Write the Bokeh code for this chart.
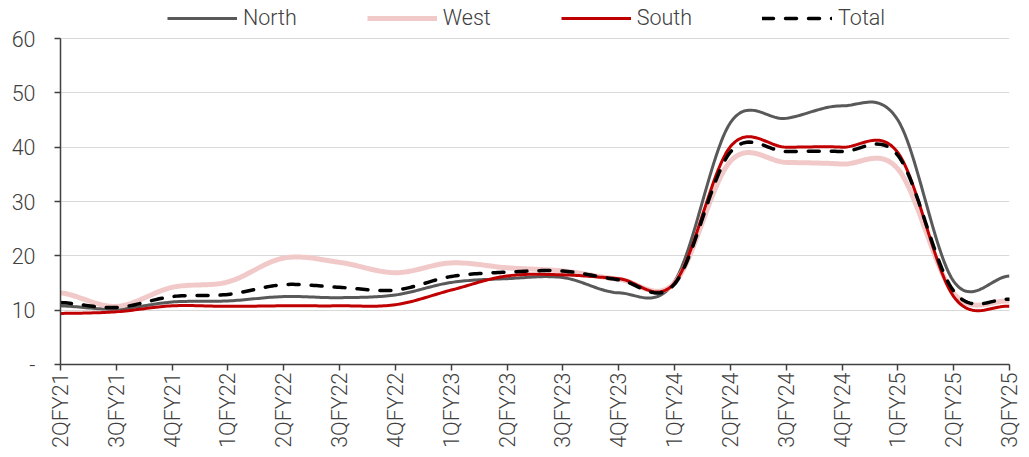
import numpy as np
from bokeh.plotting import figure
from bokeh.models import Legend, LegendItem, FixedTicker, Range1d
from bokeh.embed import file_html
from bokeh.resources import INLINE

# Quarterly series
quarters = ["2QFY21", "3QFY21", "4QFY21", "1QFY22", "2QFY22", "3QFY22",
            "4QFY22", "1QFY23", "2QFY23", "3QFY23", "4QFY23", "1QFY24",
            "2QFY24", "3QFY24", "4QFY24", "1QFY25", "2QFY25", "3QFY25"]
north = [10.8, 10.2, 11.5, 11.7, 12.5, 12.3, 12.8, 15.1, 15.8, 16.0, 13.2, 15.3,
         44.5, 45.3, 47.6, 45.0, 15.3, 16.3]
west = [13.2, 10.7, 14.2, 15.2, 19.6, 18.8, 16.9, 18.7, 17.8, 17.2, 15.7, 15.0,
        37.4, 37.2, 36.9, 36.0, 13.1, 11.7]
south = [9.4, 9.7, 10.8, 10.7, 10.8, 10.8, 11.0, 13.7, 16.3, 16.5, 15.8, 15.0,
         40.1, 40.0, 40.0, 39.0, 12.5, 10.7]
total = [11.4, 10.5, 12.5, 12.9, 14.7, 14.2, 13.7, 16.2, 17.0, 17.2, 15.6, 14.8,
         39.1, 39.2, 39.2, 38.5, 13.5, 12.0]
y_ticks = [0, 10, 20, 30, 40, 50, 60]

FONT = "Roboto Light"
TEXT = "#404040"

# The frame runs to the top edge so the legend has room above the 60 line.
FRAME_H = 364
AXIS_TOP_PX = 326
y_top = y_ticks[-1] * FRAME_H / AXIS_TOP_PX


def smooth(vals, steps=24):
    """Cardinal (Catmull-Rom) spline through the quarterly points."""
    p = np.asarray(vals, dtype=float)
    m = np.empty_like(p)
    m[1:-1] = (p[2:] - p[:-2]) / 2.0
    m[0] = (p[1] - p[0]) / 2.0
    m[-1] = (p[-1] - p[-2]) / 2.0
    t = np.linspace(0.0, 1.0, steps, endpoint=False)
    h00 = 2 * t**3 - 3 * t**2 + 1
    h10 = t**3 - 2 * t**2 + t
    h01 = -2 * t**3 + 3 * t**2
    h11 = t**3 - t**2
    xs, ys = [], []
    for i in range(len(p) - 1):
        xs.extend(i + t)
        ys.extend(h00 * p[i] + h10 * m[i] + h01 * p[i + 1] + h11 * m[i + 1])
    xs.append(len(p) - 1)
    ys.append(p[-1])
    return xs, ys


p = figure(width=1029, height=457, output_backend="svg", toolbar_location=None,
           x_range=Range1d(0, len(quarters) - 1), y_range=Range1d(0, y_top),
           min_border_left=60, min_border_right=20, min_border_top=0,
           min_border_bottom=457 - FRAME_H)
p.outline_line_color = None
p.xgrid.grid_line_color = None
p.ygrid.grid_line_color = "#d9d9d9"
p.ygrid.grid_line_width = 1

series = [
    ("North", north, dict(line_color="#595959", line_width=3)),
    ("West", west, dict(line_color="#f2c9c9", line_width=5)),
    ("South", south, dict(line_color="#c00000", line_width=3)),
    ("Total", total, dict(line_color="#000000", line_width=3.5,
                          line_dash="11 12", line_cap="round")),
]
items = []
for name, vals, style in series:
    xs, ys = smooth(vals)
    r = p.line(xs, ys, line_join="round", **style)
    items.append(LegendItem(label=name, renderers=[r]))

legend = Legend(items=items, orientation="horizontal", location=(107, 334),
                glyph_width=70, glyph_height=22, label_standoff=6, spacing=70,
                padding=0, margin=0, border_line_color=None,
                background_fill_alpha=0, label_text_font=FONT,
                label_text_font_size="21.5px", label_text_color=TEXT)
p.add_layout(legend, "center")

xa = p.xaxis[0]
xa.ticker = FixedTicker(ticks=list(range(len(quarters))))
xa.major_label_overrides = {i: q for i, q in enumerate(quarters)}
xa.major_label_orientation = np.pi / 2
xa.minor_tick_line_color = None
xa.major_tick_in = 0
xa.major_tick_out = 6
xa.major_label_standoff = 2

ya = p.yaxis[0]
ya.ticker = FixedTicker(ticks=y_ticks)
ya.bounds = (y_ticks[0], y_ticks[-1])
ya.major_label_overrides = {0: "-"}
ya.minor_tick_line_color = None
ya.major_tick_in = 0
ya.major_tick_out = 6
ya.major_label_standoff = 19

for ax in (xa, ya):
    ax.axis_line_color = "#404040"
    ax.axis_line_width = 1.5
    ax.major_tick_line_color = "#404040"
    ax.major_tick_line_width = 1.5
    ax.major_label_text_font = FONT
    ax.major_label_text_font_size = "21.5px"
    ax.major_label_text_color = TEXT

open("out.html", "w").write(file_html(p, INLINE))
